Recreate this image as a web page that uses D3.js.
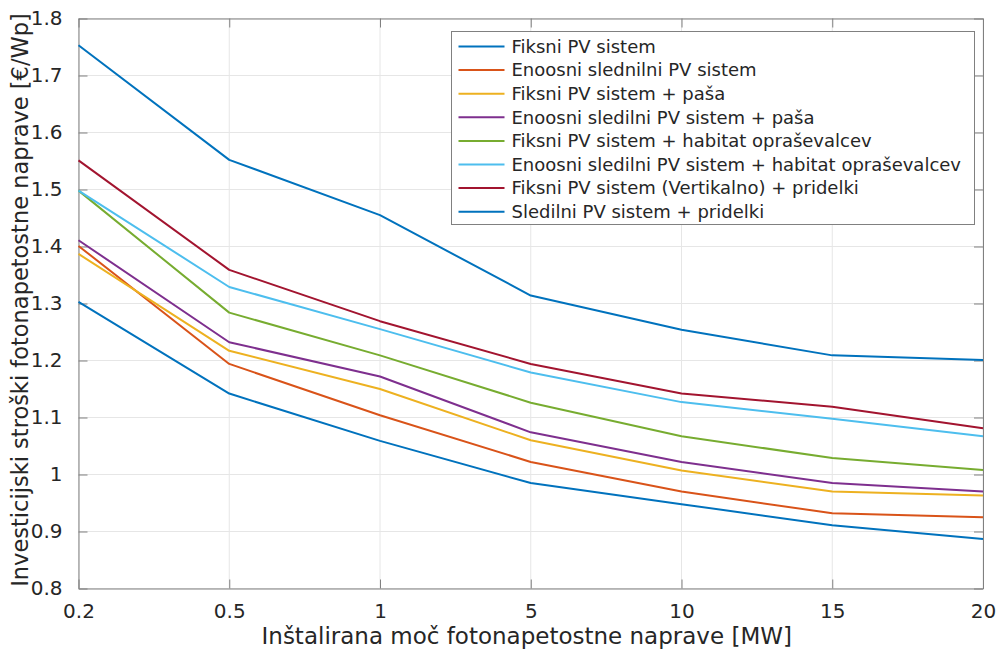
<!DOCTYPE html>
<html>
<head>
<meta charset="utf-8">
<script src="https://cdn.jsdelivr.net/npm/d3@7"></script>
<style>
  body { margin: 0; background: #fff; }
  svg text { font-family: "DejaVu Sans", Verdana, sans-serif; fill: #262626; }
</style>
</head>
<body>
<svg id="chart" width="996" height="649"></svg>
<script>
// Installed power categories [MW]
const capacities = ['0.2', '0.5', '1', '5', '10', '15', '20']
const yTicks = [0.8, 0.9, 1, 1.1, 1.2, 1.3, 1.4, 1.5, 1.6, 1.7, 1.8]

const seriesNames = [
  'Fiksni PV sistem',
  'Enoosni slednilni PV sistem',
  'Fiksni PV sistem + paša',
  'Enoosni sledilni PV sistem + paša',
  'Fiksni PV sistem + habitat opraševalcev',
  'Enoosni sledilni PV sistem + habitat opraševalcev',
  'Fiksni PV sistem (Vertikalno) + pridelki',
  'Sledilni PV sistem + pridelki'
]

// Investment cost [€/Wp] per category
const fixedPv        = [1.753, 1.552, 1.455, 1.314, 1.254, 1.209, 1.201]
const singleAxis     = [1.401, 1.194, 1.104, 1.022, 0.970, 0.932, 0.925]
const fixedGrazing   = [1.387, 1.217, 1.150, 1.060, 1.007, 0.970, 0.963]
const singleGrazing  = [1.411, 1.232, 1.172, 1.074, 1.022, 0.985, 0.970]
const fixedHabitat   = [1.498, 1.284, 1.209, 1.126, 1.067, 1.029, 1.008]
const singleHabitat  = [1.498, 1.329, 1.255, 1.179, 1.127, 1.098, 1.067]
const verticalCrops  = [1.551, 1.359, 1.269, 1.194, 1.142, 1.119, 1.081]
const trackingCrops  = [1.303, 1.142, 1.059, 0.985, 0.948, 0.911, 0.887]

const seriesValues = [fixedPv, singleAxis, fixedGrazing, singleGrazing,
  fixedHabitat, singleHabitat, verticalCrops, trackingCrops]

// MATLAB default line colours (8th wraps back to the first)
const colors = ['#0072BD', '#D95319', '#EDB120', '#7E2F8E', '#77AC30', '#4DBEEE', '#A2142F', '#0072BD']

const margin = { left: 78.5, top: 18.5, right: 13, bottom: 60.5 }
const width = 996
const height = 649
const innerW = width - margin.left - margin.right
const innerH = height - margin.top - margin.bottom
const tickLen = 9
const axisColor = '#808080'

const svg = d3.select('#chart')
const g = svg.append('g').attr('transform', `translate(${margin.left},${margin.top})`)

const x = d3.scalePoint().domain(capacities).range([0, innerW])
const y = d3.scaleLinear().domain([0.8, 1.8]).range([innerH, 0])

// grid
g.append('g')
  .selectAll('line')
  .data(yTicks)
  .join('line')
  .attr('x1', 0).attr('x2', innerW)
  .attr('y1', d => y(d)).attr('y2', d => y(d))
  .attr('stroke', '#e6e6e6').attr('stroke-width', 1)
g.append('g')
  .selectAll('line')
  .data(capacities)
  .join('line')
  .attr('x1', d => x(d)).attr('x2', d => x(d))
  .attr('y1', 0).attr('y2', innerH)
  .attr('stroke', '#e6e6e6').attr('stroke-width', 1)

// axes: ticks point inward, box on all four sides
const styleAxis = sel => {
  sel.select('.domain').attr('stroke', axisColor)
  sel.selectAll('.tick line').attr('stroke', axisColor)
  sel.selectAll('.tick text').attr('font-size', 20).attr('fill', '#262626')
}

g.append('g')
  .attr('transform', `translate(0,${innerH})`)
  .call(d3.axisBottom(x).tickSizeInner(-tickLen).tickSizeOuter(0).tickPadding(15))
  .call(styleAxis)

g.append('g')
  .call(d3.axisLeft(y).tickValues(yTicks).tickFormat(d3.format('~g'))
    .tickSizeInner(-tickLen).tickSizeOuter(0).tickPadding(16))
  .call(styleAxis)

g.append('g')
  .call(d3.axisTop(x).tickSizeInner(-tickLen).tickSizeOuter(0).tickFormat(''))
  .call(styleAxis)

g.append('g')
  .attr('transform', `translate(${innerW},0)`)
  .call(d3.axisRight(y).tickValues(yTicks).tickSizeInner(-tickLen).tickSizeOuter(0).tickFormat(''))
  .call(styleAxis)

// lines
const line = d3.line()
  .x((d, i) => x(capacities[i]))
  .y(d => y(d))

g.append('g')
  .selectAll('path')
  .data(seriesValues)
  .join('path')
  .attr('d', line)
  .attr('fill', 'none')
  .attr('stroke', (d, i) => colors[i])
  .attr('stroke-width', 2)
  .attr('stroke-linejoin', 'round')

// axis labels
svg.append('text')
  .attr('x', margin.left + innerW / 2 - 4)
  .attr('y', 644)
  .attr('text-anchor', 'middle')
  .attr('font-size', 23)
  .text('Inštalirana moč fotonapetostne naprave [MW]')

svg.append('text')
  .attr('transform', 'translate(28,300) rotate(-90)')
  .attr('text-anchor', 'middle')
  .attr('font-size', 22.5)
  .text('Investicijski stroški fotonapetostne naprave [€/Wp]')

// legend
const legend = svg.append('g').attr('transform', 'translate(451.5,31.5)')
const rowH = 23.6

legend.append('rect')
  .attr('width', 523).attr('height', 193)
  .attr('fill', '#fff')
  .attr('stroke', axisColor)

const rows = legend.selectAll('g.row')
  .data(seriesNames)
  .join('g')
  .attr('class', 'row')
  .attr('transform', (d, i) => `translate(0,${15 + i * rowH})`)

rows.append('line')
  .attr('x1', 7).attr('x2', 53)
  .attr('stroke', (d, i) => colors[i])
  .attr('stroke-width', 2)

rows.append('text')
  .attr('x', 60)
  .attr('dy', '0.35em')
  .attr('font-size', 18)
  .text(d => d)
</script>
</body>
</html>
